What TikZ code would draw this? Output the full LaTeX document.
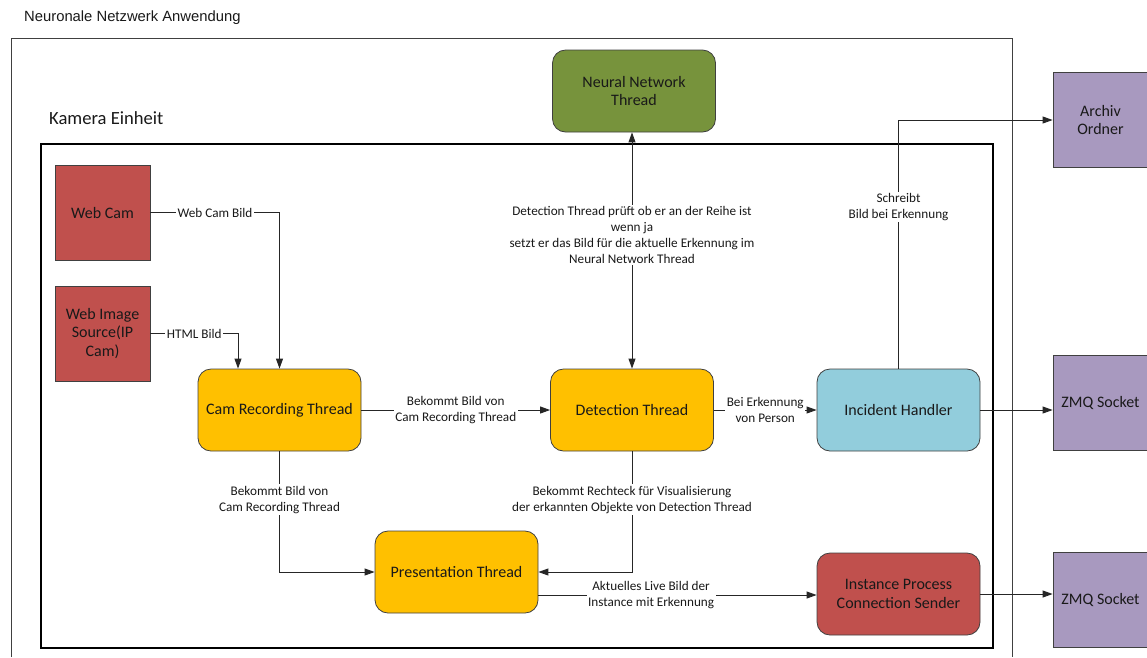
\documentclass[tikz,border=0pt]{standalone}
\usepackage{fontspec}
\setmainfont{Carlito}
\newfontfamily\arialfont{Liberation Sans}
\usetikzlibrary{arrows.meta,calc}

\definecolor{nngreen}{HTML}{77933C}
\definecolor{srcred}{HTML}{C0504D}
\definecolor{thyellow}{HTML}{FFC000}
\definecolor{incblue}{HTML}{92CDDC}
\definecolor{extpurple}{HTML}{A899BF}

\tikzset{
  box/.style={draw=black!75, line width=0.8pt, align=center, text=black!90,
    font=\fontsize{16}{18.5}\selectfont, inner sep=2pt},
  rbox/.style={box, rounded corners=13pt, minimum width=163pt, minimum height=82pt},
  sbox/.style={box, minimum width=95pt, minimum height=95pt},
  conn/.style={draw=black!85, line width=0.9pt, -{Triangle[length=10pt,width=7pt]}},
  lbl/.style={fill=white, align=center, inner sep=1.5pt, text=black!90,
    font=\fontsize{13.2}{16}\selectfont},
  frame/.style={line width=0.9pt},
}

\begin{document}
\begin{tikzpicture}[x=1pt, y=-1pt]
\useasboundingbox (0,0) rectangle (1147,657);

% application frame and camera unit frame
\draw[frame, draw=black!75] (11,657) -- (11,38) -- (1012,38) -- (1012,657);
\node[anchor=west, inner sep=0pt, font=\arialfont\fontsize{14.8}{17}\selectfont, text=black!90] (apptitle) at (24,18) {Neuronale Netzwerk Anwendung};
\draw[frame, line width=1.2pt, draw=black] (41,144) rectangle (993,648);
\node[anchor=west, inner sep=0pt, font=\fontsize{18.6}{21}\selectfont, text=black!90] (camtitle) at (49,118) {Kamera Einheit};

% components
\node[rbox, fill=nngreen] (nn) at (634,91) {Neural Network\\Thread};
\node[sbox, fill=srcred] (webcam) at (102.5,212.5) {Web Cam};
\node[sbox, fill=srcred] (webimg) at (102.5,333.5) {Web Image\\Source(IP\\Cam)};
\node[rbox, fill=thyellow] (cr) at (279.5,410) {Cam Recording Thread};
\node[rbox, fill=thyellow] (det) at (632,410) {Detection Thread};
\node[rbox, fill=incblue] (inc) at (898.5,410) {Incident Handler};
\node[rbox, fill=thyellow] (pres) at (456.5,572) {Presentation Thread};
\node[rbox, fill=srcred] (inst) at (898.5,594) {Instance Process\\Connection Sender};
\node[sbox, fill=extpurple] (arch) at (1100.5,120) {Archiv\\Ordner};
\node[sbox, fill=extpurple] (zmqa) at (1100.5,402.5) {ZMQ Socket};
\node[sbox, fill=extpurple] (zmqb) at (1100.5,600) {ZMQ Socket};

% connectors
\draw[conn] (webcam.east) -| node[lbl, pos=0.25] {Web Cam Bild} (cr.north);
\draw[conn] (webimg.east) -| node[lbl, pos=0.25] {HTML Bild} ([xshift=-41.5pt]cr.north);
\draw[conn] (cr.east) -- node[lbl] {Bekommt Bild von\\Cam Recording Thread} (det.west);
\draw[conn] (det.east) -- node[lbl] {Bei Erkennung\\von Person} (inc.west);
\draw[conn] (inc.east) -- (inc.east -| zmqa.west);
\draw[conn, {Triangle[length=10pt,width=7pt]}-{Triangle[length=10pt,width=7pt]}] (det.north) -- node[lbl, pos=0.567] {Detection Thread prüft ob er an der Reihe ist\\wenn ja\\setzt er das Bild für die aktuelle Erkennung im\\Neural Network Thread} (det.north |- nn.south);
\draw[conn] (inc.north) |- node[lbl, pos=0.325] {Schreibt\\Bild bei Erkennung} (arch.west);
\draw[conn] (cr.south) |- node[lbl, pos=0.2] {Bekommt Bild von\\Cam Recording Thread} (pres.west);
\draw[conn] (det.south) |- node[lbl, pos=0.2] {Bekommt Rechteck für Visualisierung\\der erkannten Objekte von Detection Thread} (pres.east);
\draw[conn] ([yshift=-23pt]pres.east) -- node[lbl, pos=0.405] {Aktuelles Live Bild der\\Instance mit Erkennung} ([yshift=-23pt]pres.east -| inst.west);
\draw[conn] (inst.east) -- (inst.east -| zmqb.west);
\end{tikzpicture}
\end{document}
